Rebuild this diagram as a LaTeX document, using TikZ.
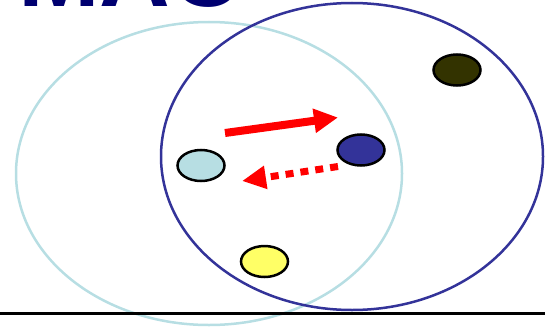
\documentclass[tikz,border=0pt]{standalone}
\usepackage{fontspec}
\setmainfont{Liberation Sans}
\usetikzlibrary{shapes.geometric,arrows.meta}
\definecolor{navytext}{RGB}{0,0,112}
\definecolor{lightcyan}{RGB}{183,222,227}
\definecolor{setblue}{RGB}{51,51,153}
\definecolor{olive}{RGB}{51,51,0}
\definecolor{lightyellow}{RGB}{255,255,102}
\tikzset{
  dot/.style={ellipse, draw=black, line width=2.5pt, minimum width=47pt, minimum height=31pt, inner sep=0pt},
  setring/.style={line width=2.5pt},
  bigarrow/.style={red, line width=8pt, -{Triangle[length=24pt,width=23pt]}},
  dotarrow/.style={red, line width=7pt, dash pattern=on 8pt off 7pt, -{Triangle[length=24pt,width=22pt]}}
}
\begin{document}
\begin{tikzpicture}[x=1pt,y=-1pt]
\useasboundingbox (0,0) rectangle (545,329);
% title, cropped at top
\node[anchor=base west, inner sep=0pt, text=navytext, font=\fontsize{98}{98}\selectfont\bfseries] (title) at (18,7) {MAC};
% sets
\draw[setring, lightcyan] (209,173.5) ellipse [x radius=193pt, y radius=151.5pt];
\draw[setring, setblue] (352,156.5) ellipse [x radius=191pt, y radius=153.5pt];
% baseline rule
\draw[line width=3pt, black] (0,313.5) coordinate (l0) -- (545,313.5) coordinate (l1);
% elements
\node[dot, fill=olive] (o) at (457,70) {};
\node[dot, fill=setblue] (b) at (361,150) {};
\node[dot, fill=lightcyan] (c) at (201,165.5) {};
\node[dot, fill=lightyellow] (y) at (264.5,261.5) {};
% arrows
\coordinate (a1s) at (225,133);
\coordinate (a1e) at (338,117.5);
\coordinate (a2s) at (338,166.5);
\coordinate (a2e) at (242,181);
\draw[bigarrow] (a1s) -- (a1e);
\draw[dotarrow] (a2s) -- (a2e);
\end{tikzpicture}
\end{document}
